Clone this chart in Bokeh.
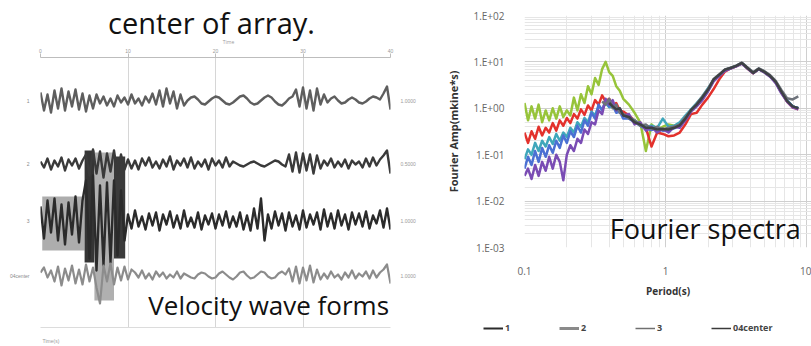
from bokeh.plotting import figure
from bokeh.layouts import row, column
from bokeh.models import (Range1d, FixedTicker, Label, Legend, LegendItem,
                          CustomJSTickFormatter, LinearAxis, ColumnDataSource)
from bokeh.transform import dodge
from bokeh.embed import file_html
from bokeh.resources import INLINE

NAN = float("nan")

# ---------------- left panel: velocity wave forms ----------------
TIME = list(range(101))
TIME_TICKS = [0, 25, 50, 75, 100]
TIME_TICK_LABELS = ["0", "10", "20", "30", "40"]
TRACE_NAMES = ["1", "2", "3", "04center"]
TRACE_SCALES = ["1.0000", "0.5000", "1.0000", "1.0000"]

TRACE_1 = [8, -10, 6, -12, 10, -8, 12, -10, 9, -6, 11, -9, 7, -11, 5, -8, 6,
           -3, 4, -5, 2, -6, 5, -2, 3, -4, 6, -3, 2, -5, 4, -2, 7, -4,
           10, -6, 12, -3, 9, -8, 6, -5,
           0, 3, 4, 1, -3, -4, -1, 2, 4, 3, 0, -3, -4, -2, 1, 4, 5, 2, -2, -4,
           -3, 0, 3, 5, 3, -1, -4, -5, -2, 2, 4,
           11, -6, 13, -8, 10, -10, 12, -4, 6,
           -2, 2, 4, 0, -3, -2, 1, 3, 1, -2, -3, -1, 2, 4, 3,
           1, 7, 14, -9]
TRACE_2 = [2, -4, 5, -6, 3, -3, 6, -7, 4, -2, 5, -5, 3,
           9, -12, 14, -10, 12, -14, 10, -8, 13, -11, 9, -6,
           4, -5, 3, -6, 5, -2, 6, -4, 2, -5, 4, -3, 7, -6, 3, -2, 5, -4, 6, -5,
           2, -3, 4, -6, 5, -2, 3, -4, 6, -3, 2,
           0, -2, -3, -1, 1, 2, 0, -2, -3, -1, 1, 3, 2, -1, -3,
           9, -8, 11, -9, 10, -7, 9, -10, 8, -5,
           3, -2, 5, -4, 2, -3, 4, -5, 3, -1, 2, -4, 5, -3, 6, -2,
           4, 8, 13, -10]
TRACE_3 = [14, -18, 20, -12, 22, -20, 16, -24, 18, -14, 24, -22, 20,
           40, -38, 45,
           -50, 35, -45, 38, -42,
           40, -35, 30, -20,
           6, -8, 10, -6, 4, -9, 7, -5, 8, -10, 6, -4, 9, -7, 5, -8, 10, -6, 3, -7,
           8, -9, 5, -4, 7, -8, 6, -5, 9, -7, 4, -6, 8, -9, 5,
           -10, 12, -8, 22, -20,
           6, -8, 9, -5, 7, -10, 8, -6, 5, -9, 10, -7, 6, -4, 8, -9, 11, -6, 7, -8,
           10, -5, 6, -9, 8, -4, 7, -6, 9, -8, 5, -3, 10, -7, 12, -9]
TRACE_4 = [3, 8, -2, 5, -6,
           9, -10, 7, -5, 10, -8, 6, -9, 11, -6,
           8, -12, -28,
           10, -6, 12, -9, 8, -5, 9, -4, 6,
           3, -2, 5, -3, 2, -4, 4, -1, 3, -3, 1, -2, 4, -3, 2, 0, -2, -3, 1, 3,
           2, -1, -3, -2, 2, 4, 1, -2, -4, -1, 3, 4, 0, -3, -2, 1, 4, 3, -1, -3,
           -2, 2, 4, 1,
           7, -6, 9, -8, 8, -5, 10, -7, 6, -4,
           2, -3, 4, -2, 1, -4, 3, -2, 5, -3, 2, -1, 4, -3, 5, -2,
           3, 6, 11, -8]

# smeared burst around trace 3 (time span and extent above/below the trace)
BURST_START = [0.5, 12.6, 15.4, 21.0]
BURST_END = [12.6, 15.4, 21.0, 24.2]
BURST_HIGH = [24, 70, 68, 64]
BURST_LOW = [-30, -42, -80, -38]

# ---------------- right panel: Fourier spectra ----------------
PERIOD = [0.1000, 0.1059, 0.1122, 0.1189, 0.1259, 0.1334, 0.1413, 0.1496, 0.1585, 0.1679,
          0.1778, 0.1884, 0.1995, 0.2113, 0.2239, 0.2371, 0.2512, 0.2661, 0.2818, 0.2985,
          0.3162, 0.3350, 0.3548, 0.3758, 0.3981, 0.4217, 0.4467, 0.4732, 0.5012,
          0.5495, 0.6026, 0.6607, 0.7244, 0.7943, 0.8710, 0.9550, 1.0471, 1.1482, 1.2589,
          1.3804, 1.5136, 1.6596, 1.8197, 1.9953, 2.1878, 2.3988, 2.6303, 2.8840, 3.1623,
          3.4674, 3.8019, 4.1687, 4.5709, 5.0119, 5.4954, 6.0256, 6.6069, 7.2444, 7.9433,
          8.7096, 9.5499]

AMP_GREEN = [1.3, 0.55, 1.1, 0.6, 1.2, 0.5, 0.9, 0.55, 1.0, 0.6, 1.1, 0.65, 0.9, 0.7,
             1.7, 0.9, 2.0, 1.3, 3.0, 2.0, 4.5, 3.2, 7.0, 10.0, 6.0, 5.0, 3.0, 2.4, 1.6,
             1.2, 0.8, 0.5, 0.12, 0.45, 0.35, 0.4, 0.45, 0.42, 0.45, 0.6, 0.9, 1.2, 1.6,
             2.4, 4.0, 5.2, 6.6, 7.3, 8.1, 9.3, 7.3, 5.8, 7.0, 6.0, 4.9, 3.6, 2.2, 1.45,
             1.1, 1.0]
AMP_RED = [0.30, 0.18, 0.32, 0.22, 0.40, 0.26, 0.38, 0.30, 0.48, 0.33,
           0.55, 0.42, 0.62, 0.48, 0.75, 0.60, 0.95, 0.72, 1.15, 0.90,
           1.5, 1.2, 1.9, 1.4, 1.6, 1.1, 1.3, 0.9, 0.85,
           0.7, 0.55, 0.45, 0.38, 0.15, 0.3, 0.28, 0.25, 0.26, 0.3,
           0.45, 0.75, 0.8, 1.2, 1.7, 2.6, 4.2, 6.2, 7.2, 8.0,
           9.3, 7.2, 5.7, 7.0, 6.0, 4.9, 3.6, 2.2, 1.4, 1.05, 0.95]
AMP_TEAL = [0.08, 0.13, 0.1, 0.18, 0.12, 0.2, 0.15, 0.24, 0.17, 0.28,
            0.2, 0.3, 0.24, 0.38, 0.3, 0.5, 0.4, 0.62, 0.5, 0.85,
            0.7, 1.1, 0.95, 1.3, 1.05, 1.1, 0.85, 0.9, 0.7,
            0.65, 0.55, 0.45, 0.4, 0.42, 0.38, 0.6, 0.4, 0.42, 0.5,
            0.7, 0.95, 1.3, 1.8, 2.7, 4.1, 5.2, 6.7, 7.4, 8.2,
            9.4, 7.4, 5.9, 7.1, 6.1, 5.0, 3.7, 2.3, 1.5, 1.1, 1.0]
AMP_BLUE = [0.05, 0.09, 0.06, 0.12, 0.07, 0.14, 0.09, 0.16, 0.11, 0.2,
            0.14, 0.26, 0.18, 0.32, 0.24, 0.42, 0.3, 0.55, 0.42, 0.8,
            0.6, 1.2, 0.9, 1.5, 1.1, 1.2, 0.8, 0.85, 0.6,
            0.6, 0.5, 0.42, 0.36, 0.34, 0.38, 0.33, 0.34, 0.37, 0.42,
            0.6, 0.9, 1.15, 1.6, 2.4, 4.0, 5.1, 6.6, 7.3, 8.1,
            9.4, 7.3, 5.8, 7.0, 6.0, 4.9, 3.6, 2.2, 1.45, 1.1, 1.0]
AMP_PURPLE = [0.035, 0.05, 0.03, 0.06, 0.035, 0.07, 0.045, 0.09, 0.05, 0.1,
              0.07, 0.028, 0.1, 0.16, 0.12, 0.22, 0.18, 0.35, 0.28, 0.5,
              0.45, 0.9, 0.75, 1.6, 1.2, 1.5, 0.9, 1.0, 0.7,
              0.75, 0.45, 0.5, 0.33, 0.4, 0.3, 0.36, 0.3, 0.4, 0.38,
              0.55, 0.85, 1.1, 1.5, 2.3, 3.8, 5.0, 6.4, 7.2, 8.0,
              9.2, 7.2, 5.7, 7.0, 5.9, 4.8, 3.5, 2.1, 1.4, 1.05, 0.95]
AMP_DARK_A = [NAN] * 22 + [1.4, 1.2, 1.6, 1.0, 1.2, 0.8, 0.75,
              0.6, 0.55, 0.42, 0.45, 0.36, 0.4, 0.35, 0.38, 0.4, 0.45,
              0.65, 0.9, 1.25, 1.8, 2.6, 4.3, 5.4, 6.9, 7.5, 8.3,
              9.6, 7.6, 6.0, 7.3, 6.3, 5.2, 3.9, 2.5, 1.65, 1.55, 1.8]
AMP_DARK_B = [NAN] * 24 + [1.3, 1.1, 0.95, 1.0, 0.7,
              0.65, 0.5, 0.45, 0.38, 0.38, 0.35, 0.36, 0.35, 0.38, 0.43,
              0.6, 0.92, 1.2, 1.7, 2.5, 4.2, 5.3, 6.8, 7.4, 8.2,
              9.5, 7.4, 5.8, 7.1, 6.1, 5.0, 3.7, 2.3, 1.45, 1.1, 1.0]

SERIES_NAMES = ["1", "2", "3", "04center"]
Y_TICKS = [1e-3, 1e-2, 1e-1, 1e0, 1e1, 1e2]
X_TICKS = [0.1, 1, 10]

FONT = "Open Sans"


def blank(fig):
    fig.outline_line_color = None
    fig.background_fill_color = "white"
    fig.border_fill_color = "white"


# ======================= TITLE STRIP (left) =======================
head = figure(width=418, height=44, x_range=Range1d(0, 418), y_range=Range1d(0, 44),
              x_axis_location=None, y_axis_location=None, toolbar_location=None,
              output_backend="svg", min_border=0, frame_align=False, title=None)
blank(head)
head.xgrid.visible = False
head.ygrid.visible = False
head.add_layout(Label(x=211, y=22, text="center of array.", text_align="center",
                      text_baseline="alphabetic", text_font=FONT, text_font_size="29px",
                      text_color="#111111"))
head.add_layout(Label(x=228, y=3, text="Time", text_align="center",
                      text_baseline="middle", text_font=FONT, text_font_size="5px",
                      text_color="#9a9a9a"))

# ======================= LEFT FIGURE =======================
TRACE_OFFSETS = [227, 164, 107, 52]

left = figure(width=418, height=302, x_range=Range1d(0, 100), y_range=Range1d(0, 270),
              x_axis_location="above", toolbar_location=None, output_backend="svg",
              min_border_left=40, min_border_right=21, min_border_top=13,
              min_border_bottom=19, frame_align=False, title=None)
blank(left)

ax = left.xaxis[0]
ax.ticker = FixedTicker(ticks=TIME_TICKS)
ax.major_label_overrides = dict(zip(TIME_TICKS, TIME_TICK_LABELS))
ax.axis_line_color = "#bdbdbd"
ax.major_tick_line_color = "#bdbdbd"
ax.major_tick_out = 4
ax.major_tick_in = 0
ax.minor_tick_line_color = None
ax.major_label_text_font_size = "5px"
ax.major_label_text_color = "#9a9a9a"
ax.major_label_standoff = 1

left.xgrid.ticker = FixedTicker(ticks=TIME_TICKS)
left.xgrid.grid_line_color = "#d6d6d6"
left.ygrid.grid_line_color = None

ly = left.yaxis[0]
ly.ticker = FixedTicker(ticks=TRACE_OFFSETS)
ly.major_label_overrides = dict(zip(TRACE_OFFSETS, TRACE_NAMES))
ly.axis_line_color = None
ly.major_tick_line_color = None
ly.minor_tick_line_color = None
ly.major_label_text_font_size = "5px"
ly.major_label_text_color = "#8a8a8a"
ly.major_label_standoff = 5

ry = LinearAxis(ticker=FixedTicker(ticks=TRACE_OFFSETS),
                major_label_overrides=dict(zip(TRACE_OFFSETS, TRACE_SCALES)))
ry.axis_line_color = None
ry.major_tick_line_color = None
ry.minor_tick_line_color = None
ry.major_label_text_font_size = "5px"
ry.major_label_text_color = "#9a9a9a"
ry.major_label_standoff = 4
left.add_layout(ry, "right")

bx = LinearAxis(ticker=FixedTicker(ticks=[3]), major_label_overrides={3: "Time(s)"})
bx.axis_line_color = "#dcdcdc"
bx.major_tick_line_color = None
bx.minor_tick_line_color = None
bx.major_label_text_font_size = "5px"
bx.major_label_text_color = "#9a9a9a"
bx.major_label_standoff = 4
left.add_layout(bx, "below")

burst_src = ColumnDataSource(dict(start=BURST_START, end=BURST_END,
                                  high=BURST_HIGH, low=BURST_LOW,
                                  color=["#6a6a6a", "#1f1f1f", "#8e8e8e", "#262626"],
                                  alpha=[0.55, 0.9, 0.7, 0.9]))
left.quad(left="start", right="end",
          top=dodge("high", TRACE_OFFSETS[2], range=left.y_range),
          bottom=dodge("low", TRACE_OFFSETS[2], range=left.y_range),
          source=burst_src, fill_color="color", fill_alpha="alpha", line_color=None)

trace_src = ColumnDataSource(dict(t=TIME, a=TRACE_1, b=TRACE_2, c=TRACE_3, d=TRACE_4))
trace_styles = [("a", "#5e5e5e", 2.4), ("b", "#3a3a3a", 2.4), ("c", "#2b2b2b", 2.4),
                ("d", "#8c8c8c", 2.2)]
for (col, color, w), off in zip(trace_styles, TRACE_OFFSETS):
    left.line(x="t", y=dodge(col, off, range=left.y_range), source=trace_src,
              line_color=color, line_width=w, line_join="round")

left.add_layout(Label(x=30.8, y=23, text="Velocity wave forms", text_align="left",
                      text_baseline="alphabetic", text_font=FONT, text_font_size="26px",
                      text_color="#111111"))

# ======================= RIGHT FIGURE =======================
right = figure(width=393, height=300, x_axis_type="log", y_axis_type="log",
               x_range=Range1d(0.1, 10.8), y_range=Range1d(1e-3, 1e2),
               toolbar_location=None, output_backend="svg",
               min_border_left=106, min_border_right=0, min_border_top=15,
               min_border_bottom=50, frame_align=False, title=None)
blank(right)

minor_x = [m * d for d in (0.1, 1) for m in range(2, 10)]
minor_y = [m * d for d in Y_TICKS[:-1] for m in range(2, 10)]
right.xaxis.ticker = FixedTicker(ticks=X_TICKS, minor_ticks=minor_x)
right.yaxis.ticker = FixedTicker(ticks=Y_TICKS, minor_ticks=minor_y)
right.xaxis.formatter = CustomJSTickFormatter(
    code="return tick >= 1 ? tick.toFixed(0) : tick.toFixed(1);")
right.yaxis.formatter = CustomJSTickFormatter(code="""
const e = Math.round(Math.log10(tick));
const s = e < 0 ? '-' : '+';
const a = Math.abs(e);
return '1.E' + s + (a < 10 ? '0' : '') + a;
""")
for a in (right.xaxis[0], right.yaxis[0]):
    a.axis_line_color = None
    a.major_tick_line_color = None
    a.minor_tick_line_color = None
    a.major_label_text_font = FONT
    a.major_label_text_font_size = "10px"
    a.major_label_text_color = "#666666"
    a.major_label_standoff = 14
    a.axis_label_text_font = FONT
    a.axis_label_text_font_size = "10px"
    a.axis_label_text_font_style = "bold"
    a.axis_label_text_color = "#333333"
right.xaxis.major_label_standoff = 13
right.xaxis.axis_label = "Period(s)"
right.xaxis.axis_label_standoff = 6
right.yaxis.axis_label = "Fourier Amp(mkine*s)"
right.yaxis.axis_label_text_font_size = "11px"
right.yaxis.axis_label_standoff = 9

for g in (right.xgrid[0], right.ygrid[0]):
    g.grid_line_color = "#cfcfcf"
    g.minor_grid_line_color = "#e6e6e6"

curves = [(AMP_GREEN, "#97c43a"), (AMP_RED, "#e3312c"), (AMP_TEAL, "#3fa7bb"),
          (AMP_BLUE, "#4b70d3"), (AMP_PURPLE, "#7a4cb4"), (AMP_DARK_A, "#6e737b"),
          (AMP_DARK_B, "#3e4144")]
for amp, color in curves:
    right.line(PERIOD, amp, line_color=color, line_width=2.5, line_join="round")

right.add_layout(Label(x=9.06, y=0.0026, text="Fourier spectra", text_align="right",
                       text_baseline="alphabetic", text_font=FONT, text_font_size="27px",
                       text_color="#111111"))

# ======================= LEGEND STRIP (right) =======================
legfig = figure(width=393, height=46, x_range=Range1d(0, 1), y_range=Range1d(0, 1),
                x_axis_location=None, y_axis_location=None, toolbar_location=None,
                output_backend="svg", min_border=0, frame_align=False, title=None)
blank(legfig)
legfig.xgrid.visible = False
legfig.ygrid.visible = False
legend_styles = [("#2b2b2b", 2), ("#8a8a8a", 3), ("#707070", 1.5), ("#3a3a3a", 1.5)]
items = []
for name, (color, w) in zip(SERIES_NAMES, legend_styles):
    r = legfig.line(x=[NAN], y=[NAN], line_color=color, line_width=w)
    items.append(LegendItem(label=name, renderers=[r]))
legend = Legend(items=items, orientation="horizontal", location=(65, 12),
                padding=0, margin=0, spacing=34, glyph_width=20, glyph_height=12,
                label_standoff=2, label_text_font=FONT, label_text_font_size="9px",
                label_text_font_style="bold", label_text_color="#444444",
                border_line_color=None, background_fill_alpha=0)
legfig.add_layout(legend)

layout = row(column(head, left, spacing=0), column(right, legfig, spacing=0), spacing=0)
open("out.html", "w").write(file_html(layout, INLINE))
